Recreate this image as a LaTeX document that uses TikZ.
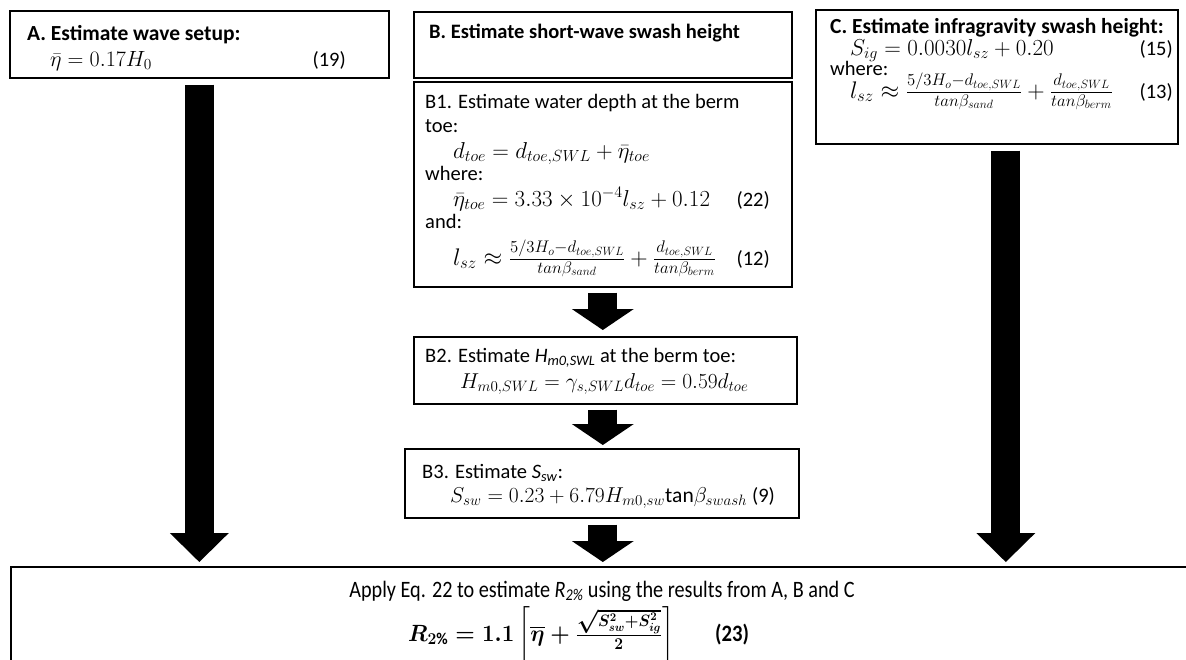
\RequirePackage{fix-cm}
\documentclass[tikz,border=0pt]{standalone}
\usepackage{fontspec}
\usepackage{amsmath,amssymb,bm,graphicx}
\setmainfont{Carlito}
\usetikzlibrary{arrows.meta}
\begin{document}
\begin{tikzpicture}[x=1pt,y=-1pt,
  box/.style={draw=black,line width=1.6pt,inner sep=0pt,anchor=north west},
  txt/.style={anchor=base west,inner sep=0pt},
  eqn/.style={anchor=base west,inner sep=0pt,font=\fontsize{23}{27}\selectfont},
  feqn/.style={anchor=base west,inner sep=0pt,font=\fontsize{24}{28}\selectfont},
  title/.style={anchor=base west,inner sep=0pt,font=\fontsize{21.5}{25}\selectfont\bfseries},
  num/.style={anchor=base east,inner sep=0pt},
  bigarrow/.style={line width=29pt,-{Triangle[width=59pt 0 0,length=29pt 0 0,line width=0pt 0 0]},shorten <=6pt,shorten >=4pt},
  smallarrow/.style={line width=29pt,-{Triangle[width=62pt 0 0,length=21pt 0 0,line width=0pt 0 0]}},
  font=\fontsize{20.5}{24.6}\selectfont]
\useasboundingbox (0,0) rectangle (1186,659);
\clip (0,0) rectangle (1186,659);

% boxes
\node[box,minimum width=379pt,minimum height=67pt] (Abox) at (9,10) {};
\node[box,minimum width=378pt,minimum height=66pt] (Bbox) at (413,11) {};
\node[box,minimum width=378pt,minimum height=205pt] (B1box) at (413,81) {};
\node[box,minimum width=362pt,minimum height=134pt] (Cbox) at (815,9) {};
\node[box,minimum width=383pt,minimum height=67pt] (B2box) at (413,336) {};
\node[box,minimum width=394pt,minimum height=69pt] (B3box) at (404,448) {};
\node[box,minimum width=1200pt,minimum height=120pt] (bottom) at (10,566) {};

% box A
\node[title] (A1) at (27,40) {A. Estimate wave setup:};
\node[eqn,font=\fontsize{22}{26}\selectfont] (A2) at (50,66) {$\bar{\eta} = 0.17H_0$};
\node[num] (A3) at (346,66) {(19)};

% box B
\node[title,font=\fontsize{20.5}{25}\selectfont\bfseries] (Bt) at (429,38) {B. Estimate short-wave swash height};

% box B1
\node[txt] (B1a) at (425,108) {B1. Estimate water depth at the berm};
\node[txt] (B1b) at (425,132) {toe:};
\node[eqn] (B1c) at (453,158) {$d_{toe} = d_{toe,SWL} + \bar{\eta}_{toe}$};
\node[txt] (B1d) at (425,180) {where:};
\node[eqn] (B1e) at (453,206) {$\bar{\eta}_{toe} = 3.33\times 10^{-4} l_{sz} + 0.12$};
\node[num] (B1f) at (770,206) {(22)};
\node[txt] (B1g) at (425,228) {and:};
\node[feqn] (B1h) at (453,265) {$l_{sz} \approx \frac{5/3H_o - d_{toe,SWL}}{tan\beta_{sand}} + \frac{d_{toe,SWL}}{tan\beta_{berm}}$};
\node[num] (B1i) at (770,265) {(12)};

% box C
\node[title] (C1) at (830,33) {C. Estimate infragravity swash height:};
\node[eqn] (C2) at (850,55) {$S_{ig} = 0.0030 l_{sz} + 0.20$};
\node[num] (C3) at (1173,55) {(15)};
\node[txt] (C4) at (830,75) {where:};
\node[feqn] (C5) at (850,98) {$l_{sz} \approx \frac{5/3H_o - d_{toe,SWL}}{tan\beta_{sand}} + \frac{d_{toe,SWL}}{tan\beta_{berm}}$};
\node[num] (C6) at (1173,98) {(13)};

% box B2
\node[txt] (B2a) at (425,362) {B2. Estimate \textit{H}\textsubscript{\textit{m0,SWL}} at the berm toe:};
\node[eqn,font=\fontsize{21.5}{26}\selectfont] (B2b) at (460,388) {$H_{m0,SWL} = \gamma_{s,SWL} d_{toe} = 0.59 d_{toe}$};

% box B3
\node[txt] (B3a) at (422,478) {B3. Estimate \textit{S}\textsubscript{\textit{sw}}:};
\node[eqn,font=\fontsize{21.5}{26}\selectfont] (B3b) at (450,502) {$S_{sw} = 0.23 + 6.79 H_{m0,sw}\mathrm{tan}\beta_{swash}$ \fontsize{20.5}{25}\selectfont(9)};

% bottom box
\node[anchor=base,inner sep=0pt,font=\fontsize{23.5}{28}\selectfont] (D1) at (602,597) {\scalebox{0.86}[1]{Apply Eq. 22 to estimate \textit{R}\textsubscript{\textit{2\%}} using the results from A, B and C}};
\node[anchor=base west,inner sep=0pt,font=\fontsize{23.5}{28}\selectfont] (D2) at (408,641) {\scalebox{0.95}[1]{\boldmath$R_{2\%} = \mathbf{1.1}\left[\overline{\eta} + \frac{\sqrt{S_{sw}^2+S_{ig}^2}}{2}\right]$}};
\node[anchor=base west,inner sep=0pt,font=\fontsize{23.5}{28}\selectfont\bfseries] (D3) at (715,641) {\scalebox{0.88}[1]{(23)}};

% arrows
\draw[bigarrow] (Abox.south) -- (Abox.south |- bottom.north);
\draw[bigarrow] ([xshift=9pt]Cbox.south) -- ([xshift=9pt]Cbox.south |- bottom.north);
\draw[smallarrow,shorten <=5pt,shorten >=6pt] (B1box.south) -- (B1box.south |- B2box.north);
\draw[smallarrow,shorten <=5pt,shorten >=3pt] (B1box.south |- B2box.south) -- (B1box.south |- B3box.north);
\draw[smallarrow,shorten <=6pt,shorten >=4pt] (B1box.south |- B3box.south) -- (B1box.south |- bottom.north);
\end{tikzpicture}
\end{document}
